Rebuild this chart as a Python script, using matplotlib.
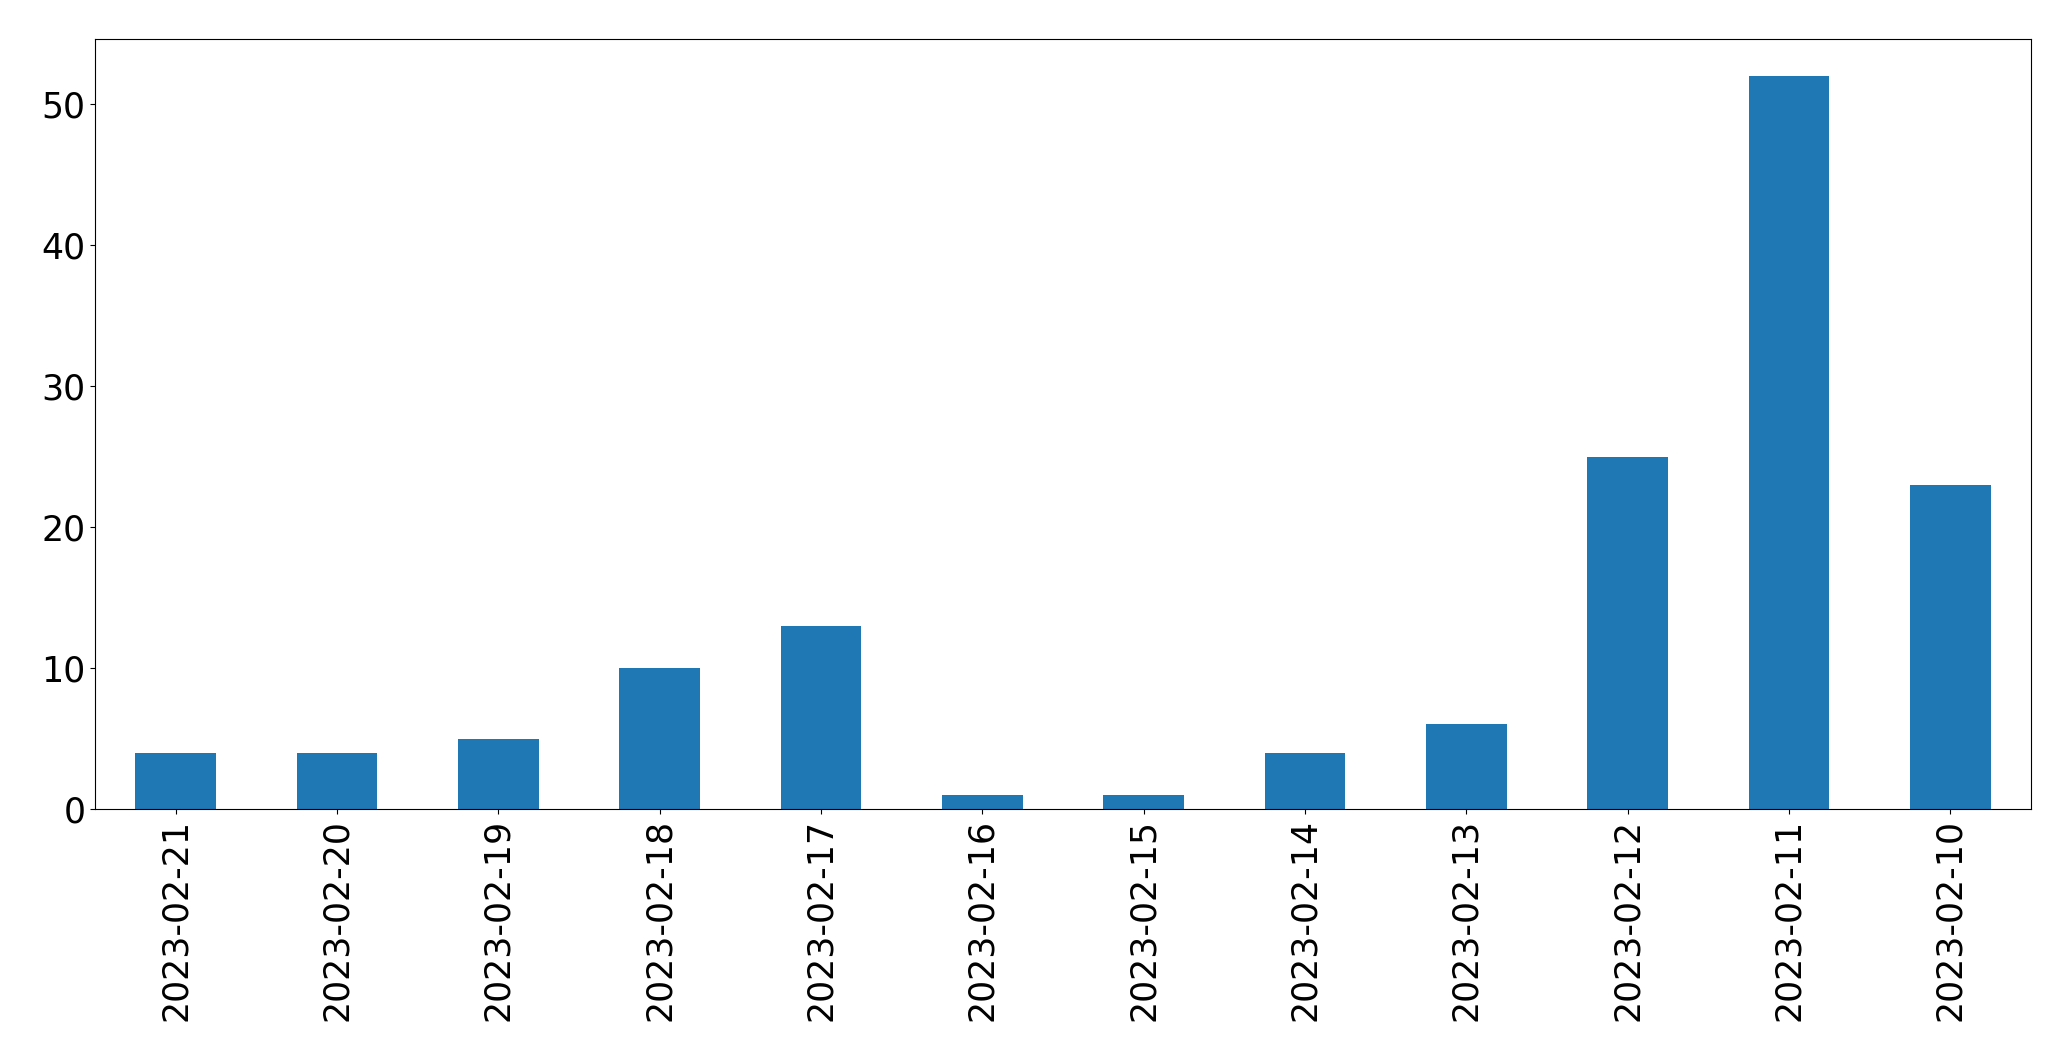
import matplotlib
matplotlib.use("Agg")
import matplotlib.pyplot as plt

dates = ["2023-02-21", "2023-02-20", "2023-02-19", "2023-02-18", "2023-02-17",
         "2023-02-16", "2023-02-15", "2023-02-14", "2023-02-13", "2023-02-12",
         "2023-02-11", "2023-02-10"]
counts = [4, 4, 5, 10, 13, 1, 1, 4, 6, 25, 52, 23]

fig = plt.figure(figsize=(20.71, 10.61), dpi=100)
ax = fig.add_axes([95 / 2071, 1 - 809 / 1061, (2031 - 95) / 2071, (809 - 39.3) / 1061])
x = range(len(dates))
ax.bar(x, counts, width=0.5, color="#1f77b4")
ax.set_xlim(-0.5, len(dates) - 0.5)
ax.set_xticks(list(x))
ax.set_xticklabels(dates, rotation=90)
ax.tick_params(axis="both", labelsize=25)
fig.savefig("out.png", dpi=100)
